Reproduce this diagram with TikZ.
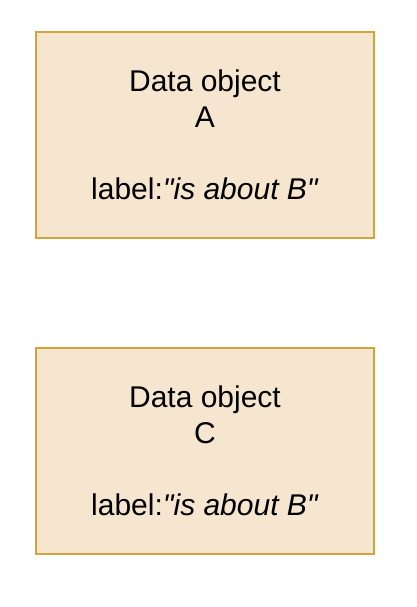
\documentclass[tikz,border=0pt]{standalone}
\usepackage{fontspec}
\setmainfont{Liberation Sans}
\newfontfamily\qfont{Liberation Sans}
\definecolor{boxfill}{HTML}{F7E6CF}
\definecolor{boxdraw}{HTML}{D4A43C}
\newcommand{\sq}{{\qfont\itshape\char34\relax}}
\begin{document}
\begin{tikzpicture}[x=1pt,y=-1pt,
  databox/.style={draw=boxdraw,fill=boxfill,line width=1.5pt,minimum width=338pt,minimum height=206pt,
    align=center,inner sep=0pt,font=\fontsize{30}{36}\selectfont}]
\useasboundingbox (0,0) rectangle (416,607);
\node[databox] (a) at (205,135) {Data object\\A\\\strut\\label:\textit{\sq is about B\sq}};
\node[databox] (c) at (205,451) {Data object\\C\\\strut\\label:\textit{\sq is about B\sq}};
\end{tikzpicture}
\end{document}
